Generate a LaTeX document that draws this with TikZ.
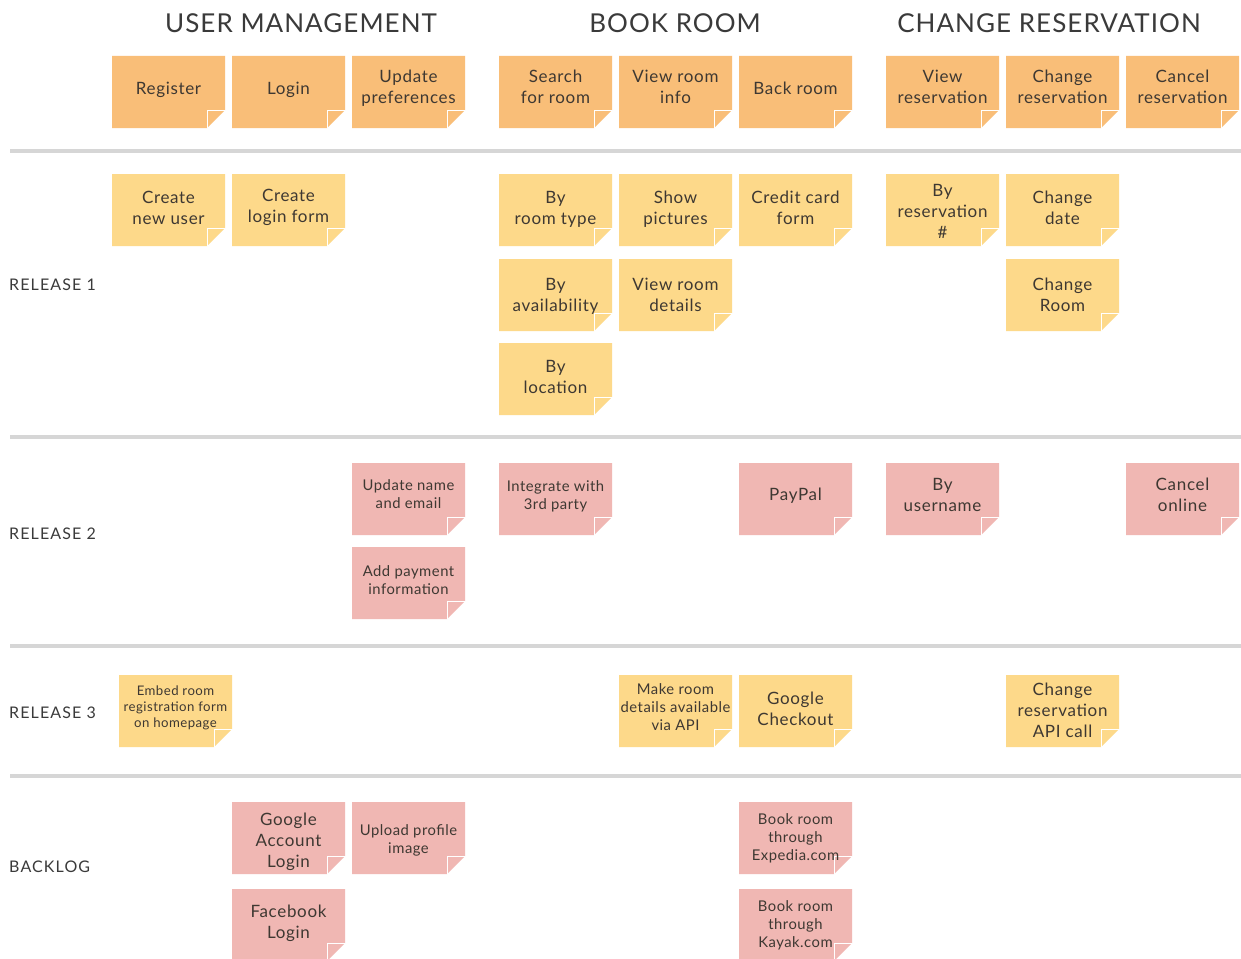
\documentclass[tikz,border=0pt]{standalone}
\usepackage{fontspec}
\setmainfont{Lato}
\newfontfamily\headfont[LetterSpace=4]{Lato}
\newfontfamily\labelfont[LetterSpace=7]{Lato}
\newfontfamily\notefont[LetterSpace=4]{Lato}
\newfontfamily\smallnotefont[LetterSpace=3.5]{Lato}
\definecolor{orangenote}{RGB}{249,190,120}
\definecolor{yellownote}{RGB}{253,217,138}
\definecolor{pinknote}{RGB}{240,183,179}
\definecolor{inkgray}{RGB}{58,58,58}
\definecolor{notetextc}{RGB}{62,56,50}
\definecolor{sepgray}{RGB}{214,214,214}
\tikzset{
  heading/.style={font=\headfont\fontsize{26}{30}\selectfont, text=inkgray, inner sep=0pt},
  rowlabel/.style={font=\labelfont\fontsize{16}{19}\selectfont, text=inkgray, inner sep=0pt, anchor=west},
  notetext/.style={font=\notefont\fontsize{17}{21}\selectfont, text=notetextc, align=center, inner sep=0pt},
  smalltext/.style={font=\smallnotefont\fontsize{14.8}{18}\selectfont},
  tinytext/.style={font=\smallnotefont\fontsize{13.2}{16}\selectfont},
  sep/.style={draw=sepgray, line width=4pt},
  fold/.style={draw=white, line width=0.9pt}
}
% #1 name, #2 left x, #3 top y, #4 colour, #5 text options, #6 text, #7 text y offset
\newcommand{\sticky}[7]{%
  \fill[#4] (#2,#3) -- ++(113,0) -- ++(0,54) -- ++(-18,18) -- ++(-95,0) -- cycle;
  \draw[fold] (#2+95,#3+72) -- ++(0,-18) -- ++(18,0);
  \node[notetext,#5] (#1) at (#2+56.5,#3+36+#7) {#6};
}
\begin{document}
\begin{tikzpicture}[x=1pt,y=-1pt]
\useasboundingbox[fill=white] (0,0) rectangle (1241,958);
\begin{scope}
\clip (0,0) rectangle (1241,958);
% headings
\node[heading] (h1) at (301,23) {USER MANAGEMENT};
\node[heading] (h2) at (675,23) {BOOK ROOM};
\node[heading] (h3) at (1049,23) {CHANGE RESERVATION};
% separators
\draw[sep] (10,151) -- (1241,151);
\draw[sep] (10,437) -- (1241,437);
\draw[sep] (10,646) -- (1241,646);
\draw[sep] (10,776) -- (1241,776);
% row labels
\node[rowlabel] (r1) at (9,285) {RELEASE 1};
\node[rowlabel] (r2) at (9,534) {RELEASE 2};
\node[rowlabel] (r3) at (9,713) {RELEASE 3};
\node[rowlabel] (r4) at (9,867) {BACKLOG};
% activities
\sticky{a1}{112}{56}{orangenote}{}{Register}{-2}
\sticky{a2}{232}{56}{orangenote}{}{Login}{-2}
\sticky{a3}{352}{56}{orangenote}{}{Update\\preferences}{-4}
\sticky{a4}{499}{56}{orangenote}{}{Search\\for room}{-5}
\sticky{a5}{619}{56}{orangenote}{}{View room\\info}{-5}
\sticky{a6}{739}{56}{orangenote}{}{Back room}{-4}
\sticky{a7}{886}{56}{orangenote}{}{View\\reservation}{-5}
\sticky{a8}{1006}{56}{orangenote}{}{Change\\reservation}{-5}
\sticky{a9}{1126}{56}{orangenote}{}{Cancel\\reservation}{-5}
% release 1
\sticky{b1}{112}{174}{yellownote}{}{Create\\new user}{-2}
\sticky{b2}{232}{174}{yellownote}{}{Create\\login form}{-3}
\sticky{b3}{499}{174}{yellownote}{}{By\\room type}{-1}
\sticky{b4}{619}{174}{yellownote}{}{Show\\pictures}{-1}
\sticky{b5}{739}{174}{yellownote}{}{Credit card\\form}{-2}
\sticky{b6}{886}{174}{yellownote}{}{By\\reservation\\\#}{1}
\sticky{b7}{1006}{174}{yellownote}{}{Change\\date}{-2}
\sticky{b8}{499}{259}{yellownote}{}{By\\availability}{1}
\sticky{b9}{619}{259}{yellownote}{}{View room\\details}{0}
\sticky{b10}{1006}{259}{yellownote}{}{Change\\Room}{0}
\sticky{b11}{499}{343}{yellownote}{}{By\\location}{-2}
% release 2
\sticky{c1}{352}{463}{pinknote}{smalltext}{Update name\\and email}{-5}
\sticky{c2}{499}{463}{pinknote}{smalltext}{Integrate with\\3rd party}{-3}
\sticky{c3}{739}{463}{pinknote}{}{PayPal}{-3}
\sticky{c4}{886}{463}{pinknote}{}{By\\username}{-4}
\sticky{c5}{1126}{463}{pinknote}{}{Cancel\\online}{-4}
\sticky{c6}{352}{547}{pinknote}{smalltext}{Add payment\\information}{-3}
% release 3
\sticky{d1}{119}{675}{yellownote}{tinytext}{Embed room\\registration form\\on homepage}{-3}
\sticky{d2}{619}{675}{yellownote}{smalltext}{Make room\\details available\\via API}{-4}
\sticky{d3}{739}{675}{yellownote}{}{Google\\Checkout}{-2}
\sticky{d4}{1006}{675}{yellownote}{}{Change\\reservation\\API call}{-1}
% backlog
\sticky{e1}{232}{802}{pinknote}{}{Google\\Account\\Login}{4}
\sticky{e2}{352}{802}{pinknote}{smalltext}{Upload profile\\image}{2}
\sticky{e3}{739}{802}{pinknote}{smalltext}{Book room\\through\\Expedia.com}{0}
\sticky{e4}{232}{889}{pinknote}{}{Facebook\\Login}{-2}
\sticky{e5}{739}{889}{pinknote}{smalltext}{Book room\\through\\Kayak.com}{0}
\end{scope}
\end{tikzpicture}
\end{document}
